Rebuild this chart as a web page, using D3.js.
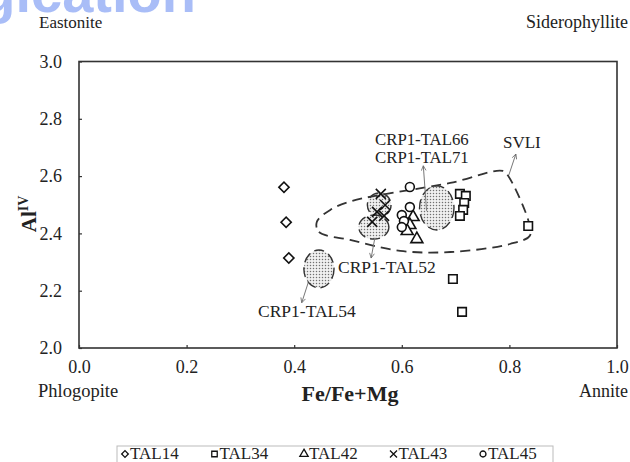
<!DOCTYPE html>
<html>
<head>
<meta charset="utf-8">
<script src="https://cdn.jsdelivr.net/npm/d3@7"></script>
<style>
  html, body { margin: 0; padding: 0; background: #fff; }
  svg { display: block; }
</style>
</head>
<body>
<svg id="chart" width="630" height="462"></svg>
<script>
// Sample analyses, Fe/(Fe+Mg) versus Al(IV)
const tal14 = [[0.381, 2.561], [0.385, 2.439], [0.390, 2.314]];
const tal34 = [[0.708, 2.538], [0.719, 2.531], [0.716, 2.506], [0.714, 2.482], [0.708, 2.461],
               [0.835, 2.426], [0.695, 2.241], [0.712, 2.126]];
const tal42 = [[0.621, 2.457], [0.615, 2.429], [0.610, 2.408], [0.628, 2.380]];
const tal43 = [[0.561, 2.538], [0.569, 2.499], [0.554, 2.475], [0.567, 2.461], [0.545, 2.440]];
const tal45 = [[0.615, 2.562], [0.615, 2.492], [0.600, 2.464], [0.604, 2.443], [0.600, 2.422]];

// SVLI field outline
const svli = [[0.442, 2.440], [0.446, 2.405], [0.504, 2.377], [0.597, 2.339], [0.690, 2.335],
              [0.801, 2.363], [0.838, 2.392], [0.836, 2.440], [0.799, 2.597], [0.788, 2.618],
              [0.690, 2.576], [0.507, 2.513], [0.467, 2.482]];

// CRP1 reference fields: centre and half extents
const fieldNames = ["CRP1-TAL66/71", "CRP1-TAL43", "CRP1-TAL52", "CRP1-TAL54"];
const fieldX = [0.665, 0.558, 0.548, 0.446];
const fieldY = [2.489, 2.499, 2.422, 2.276];
const fieldDX = [0.032, 0.022, 0.028, 0.028];
const fieldDY = [0.077, 0.042, 0.042, 0.066];

const xTicks = [0, 0.2, 0.4, 0.6, 0.8, 1.0];
const yTicks = [2.0, 2.2, 2.4, 2.6, 2.8, 3.0];
const legendNames = ["TAL14", "TAL34", "TAL42", "TAL43", "TAL45"];

const SERIF = "'Liberation Serif', 'Times New Roman', Times, 'DejaVu Serif', serif";
const svg = d3.select("#chart");
const x = d3.scaleLinear().domain([0, 1]).range([79, 617]);
const y = d3.scaleLinear().domain([2, 3]).range([348, 61.5]);

// watermark
svg.append("text").attr("x", 196).attr("y", 12).attr("text-anchor", "end")
  .attr("font-family", "'Liberation Sans', Arial, sans-serif").attr("font-weight", "bold")
  .attr("font-size", 56).attr("fill", "#a9bdf7").text("gication");

// stipple pattern
const defs = svg.append("defs");
const pat = defs.append("pattern").attr("id", "stip").attr("patternUnits", "userSpaceOnUse")
  .attr("width", 3).attr("height", 3);
pat.append("rect").attr("width", 3).attr("height", 3).attr("fill", "#f0f0f0");
pat.append("circle").attr("cx", 1.5).attr("cy", 1.5).attr("r", 0.75).attr("fill", "#707070");
defs.append("marker").attr("id", "arr").attr("viewBox", "0 0 10 10").attr("refX", 9).attr("refY", 5)
  .attr("markerWidth", 6).attr("markerHeight", 6).attr("orient", "auto")
  .append("path").attr("d", "M1,1 L9,5 L1,9").attr("fill", "none").attr("stroke", "#666").attr("stroke-width", 1.3);

// frame
svg.append("rect").attr("x", x(0)).attr("y", y(3)).attr("width", x(1) - x(0)).attr("height", y(2) - y(3))
  .attr("fill", "none").attr("stroke", "#333").attr("stroke-width", 1.6);

// axes
const xAxis = d3.axisBottom(x).tickValues(xTicks).tickSize(-3).tickFormat(d3.format(".1f")).tickPadding(12);
const gx = svg.append("g").attr("transform", `translate(0,${y(2)})`).call(xAxis);
const yAxis = d3.axisLeft(y).tickValues(yTicks).tickSize(-3).tickFormat(d3.format(".1f")).tickPadding(17);
const gy = svg.append("g").attr("transform", `translate(${x(0)},0)`).call(yAxis);
[gx, gy].forEach(g => {
  g.attr("font-family", SERIF).attr("font-size", 18);
  g.select(".domain").remove();
  g.selectAll(".tick line").attr("stroke", "#333").attr("stroke-width", 1.2);
  g.selectAll(".tick text").attr("fill", "#222");
});

// fields
fieldNames.forEach((n, i) => {
  const cx = x(fieldX[i]), cy = y(fieldY[i]);
  const rx = x(fieldDX[i]) - x(0), ry = y(2) - y(2 + fieldDY[i]);
  svg.append("ellipse").attr("cx", cx).attr("cy", cy).attr("rx", rx).attr("ry", ry)
    .attr("fill", "url(#stip)").attr("stroke", "#333").attr("stroke-width", 1.4)
    .attr("stroke-dasharray", "10,5");
});

// SVLI outline
svg.append("path").datum(svli)
  .attr("d", d3.line().x(d => x(d[0])).y(d => y(d[1])).curve(d3.curveCatmullRomClosed.alpha(0.5)))
  .attr("fill", "none").attr("stroke", "#333").attr("stroke-width", 1.8).attr("stroke-dasharray", "10,6");

// markers
const sym = (type, size) => d3.symbol().type(type).size(size)();
function plot(data, path, extra) {
  svg.append("g").selectAll("path").data(data).join("path")
    .attr("transform", d => `translate(${x(d[0])},${y(d[1])})${extra || ""}`)
    .attr("d", path).attr("fill", "#fff").attr("stroke", "#111").attr("stroke-width", 1.6);
}
plot(tal14, sym(d3.symbolSquare, 52), " rotate(45)");
plot(tal34, sym(d3.symbolSquare, 72));
plot(tal42, sym(d3.symbolTriangle, 62));
plot(tal45, sym(d3.symbolCircle, 62));
svg.append("g").selectAll("path").data(tal43).join("path")
  .attr("transform", d => `translate(${x(d[0])},${y(d[1])})`)
  .attr("d", "M-5,-5L5,5M-5,5L5,-5").attr("fill", "none").attr("stroke", "#111").attr("stroke-width", 1.6);

// annotation arrows and labels
const arrows = [[[0.646, 2.479], [0.640, 2.636]], [[0.550, 2.385], [0.543, 2.314]],
                [[0.426, 2.228], [0.414, 2.158]], [[0.799, 2.604], [0.812, 2.677]]];
arrows.forEach(a => svg.append("line").attr("x1", x(a[0][0])).attr("y1", y(a[0][1]))
  .attr("x2", x(a[1][0])).attr("y2", y(a[1][1])).attr("stroke", "#777").attr("stroke-width", 1)
  .attr("marker-end", "url(#arr)"));
const txt = (t, px, py, anchor, size) => svg.append("text").attr("x", px).attr("y", py)
  .attr("text-anchor", anchor || "start").attr("font-family", SERIF).attr("font-size", size || 16)
  .attr("fill", "#222").text(t);
txt("CRP1-TAL66", 375, 145, "start", 16.8);
txt("CRP1-TAL71", 375, 162.5, "start", 16.8);
txt("SVLI", 503, 148, "start", 17);
txt("CRP1-TAL52", 338, 273, "start", 17.5);
txt("CRP1-TAL54", 258, 317, "start", 17.5);

// end-member names
txt("Eastonite", 39, 28, "start", 17);
txt("Siderophyllite", 628, 28, "end", 18);
txt("Phlogopite", 38, 397, "start", 18.5);
txt("Annite", 628, 397, "end", 18);

// axis titles
txt("Fe/Fe+Mg", 350, 401, "middle", 22).attr("font-weight", "bold");
const yt = svg.append("text").attr("transform", "translate(36,214) rotate(-90)").attr("text-anchor", "middle")
  .attr("font-family", SERIF).attr("font-size", 21).attr("font-weight", "bold").attr("fill", "#222");
yt.append("tspan").text("Al");
yt.append("tspan").attr("dy", -8).attr("font-size", 14).text("IV");

// legend
svg.append("rect").attr("x", 117).attr("y", 446).attr("width", 436).attr("height", 30)
  .attr("fill", "#fff").attr("stroke", "#bbb").attr("stroke-width", 1);
const legSyms = [
  [sym(d3.symbolSquare, 22), " rotate(45)"], [sym(d3.symbolSquare, 30), ""],
  [sym(d3.symbolTriangle, 30), ""], ["M-3.5,-3.5L3.5,3.5M-3.5,3.5L3.5,-3.5", ""],
  [sym(d3.symbolCircle, 28), ""]];
legendNames.forEach((n, i) => {
  const lx = 125 + i * 89.5;
  svg.append("path").attr("transform", `translate(${lx},454)${legSyms[i][1]}`)
    .attr("d", legSyms[i][0]).attr("fill", "#fff").attr("stroke", "#111").attr("stroke-width", 1.3);
  txt(n, lx + 5, 459, "start", 17);
});
</script>
</body>
</html>
